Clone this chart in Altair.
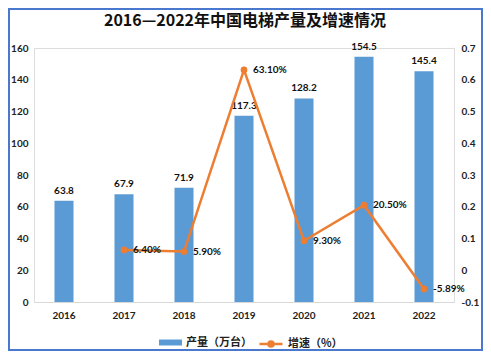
import altair as alt
import pandas as pd

years = ["2016", "2017", "2018", "2019", "2020", "2021", "2022"]
production = [63.8, 67.9, 71.9, 117.3, 128.2, 154.5, 145.4]
growth_pct = [None, 6.40, 5.90, 63.10, 9.30, 20.50, -5.89]
title_text = "2016—2022年中国电梯产量及增速情况"
left_ticks = [0, 20, 40, 60, 80, 100, 120, 140, 160]
right_ticks = [-0.1, 0, 0.1, 0.2, 0.3, 0.4, 0.5, 0.6, 0.7]

BAR_NAME = "产量（万台）"
LINE_NAME = "增速（%）"
BLUE = "#5B9BD5"
ORANGE = "#ED7D31"
NUM_FONT = "Lato"
CJK_FONT = "Noto Sans CJK SC"

df_bar = pd.DataFrame({
    "year": years,
    "prod": production,
    "prod_label": [f"{v:.1f}" for v in production],
    "series": BAR_NAME,
})
gy = [y for y, g in zip(years, growth_pct) if g is not None]
gv = [g for g in growth_pct if g is not None]
df_line = pd.DataFrame({
    "year": gy,
    "g": [v / 100 for v in gv],
    "g_label": [f"{v:.2f}%" for v in gv],
    "series": LINE_NAME,
})

W, H = 420, 254
PL, PT, PR, PB = 26, 40, 29, 49

x_enc = alt.X(
    "year:N",
    sort=years,
    scale=alt.Scale(paddingInner=0, paddingOuter=0),
    axis=alt.Axis(
        title=None, labelAngle=0, ticks=False, domainColor="#D9D9D9",
        domainWidth=1, labelFont=NUM_FONT, labelFontWeight="bold",
        labelFontSize=10, labelColor="#222222", labelPadding=8,
    ),
)

BAR_PATH = "M-1,-0.26L1,-0.26L1,0.26L-1,0.26Z"
LINE_PATH = ("M-1,0L1,0M-0.22,0A0.22,0.22,0,1,0,0.22,0"
             "A0.22,0.22,0,1,0,-0.22,0Z")

legend_common = dict(
    title=None, orient="none", direction="horizontal", symbolSize=529,
    symbolOpacity=1, labelFont=CJK_FONT, labelFontSize=11,
    labelFontWeight="bold", labelColor="#222222", labelOffset=4,
)

left_scale = alt.Scale(domain=[0, 160], nice=False)
right_scale = alt.Scale(domain=[-0.1, 0.7], nice=False)
left_axis = alt.Axis(
    title=None, values=left_ticks, grid=False, domain=False, ticks=False,
    labelFont=NUM_FONT, labelFontWeight="bold", labelFontSize=10,
    labelColor="#222222", labelPadding=6, labelOverlap=False,
    labelFlush=False,
)
right_axis = alt.Axis(
    title=None, orient="right", values=right_ticks,
    labelExpr="replace(format(datum.value, '~g'), '\u2212', '-')",
    grid=False, domain=False, ticks=False, labelFont=NUM_FONT,
    labelFontWeight="bold", labelFontSize=10, labelColor="#222222",
    labelPadding=7, labelOverlap=False, labelFlush=False,
)
y_left = alt.Y("prod:Q", scale=left_scale, axis=left_axis)
y_right = alt.Y("g:Q", scale=right_scale, axis=right_axis)

bars = alt.Chart(df_bar).mark_bar(size=19).encode(
    x=x_enc,
    y=y_left,
    fill=alt.Fill(
        "series:N",
        scale=alt.Scale(domain=[BAR_NAME], range=[BLUE]),
        legend=alt.Legend(legendX=125, legendY=283, symbolType=BAR_PATH,
                          symbolStrokeWidth=0, **legend_common),
    ),
)
bar_text = alt.Chart(df_bar).mark_text(
    baseline="bottom", dy=-5, font=NUM_FONT, fontWeight="bold",
    fontSize=10, color="#111111",
).encode(x=x_enc, y=y_left, text="prod_label:N")

left = alt.layer(bars, bar_text)

line = alt.Chart(df_line).mark_line(strokeWidth=2.5).encode(
    x=x_enc,
    y=y_right,
    stroke=alt.Stroke(
        "series:N",
        scale=alt.Scale(domain=[LINE_NAME], range=[ORANGE]),
        legend=alt.Legend(legendX=224, legendY=283, symbolType=LINE_PATH,
                          symbolStrokeWidth=2.5, symbolFillColor=ORANGE,
                          **legend_common),
    ),
)
points = alt.Chart(df_line).mark_point(
    filled=True, size=45, opacity=1, color=ORANGE
).encode(x=x_enc, y=y_right)
line_text = alt.Chart(df_line).mark_text(
    align="left", baseline="middle", dx=9, font=NUM_FONT,
    fontWeight="bold", fontSize=10, color="#111111",
).encode(x=x_enc, y=y_right, text="g_label:N")

right = alt.layer(line, points, line_text)

deco = pd.DataFrame({"t": [title_text]})
border = alt.Chart(deco).mark_rect(
    fill="transparent", stroke="#4A78CF", strokeWidth=2,
).encode(
    x=alt.value(-PL + 1), x2=alt.value(W + PR - 1),
    y=alt.value(-PT + 1), y2=alt.value(H + PB - 1),
)
title = alt.Chart(deco).mark_text(
    font=CJK_FONT, fontSize=16, fontWeight="bold", color="#111111",
    align="center", baseline="middle",
).encode(x=alt.value(W / 2 + 1), y=alt.value(-PT + 13), text="t:N")

chart = alt.layer(left, right, border, title).resolve_scale(
    y="independent"
).properties(
    width=W, height=H,
    autosize=alt.AutoSizeParams(type="none"),
    padding={"left": PL, "top": PT, "right": PR, "bottom": PB},
).configure_view(stroke=None).configure_axis(
    labelOverlap=False
).configure(background="white")

chart.save("out.html", embed_options={"renderer": "svg", "actions": False})
